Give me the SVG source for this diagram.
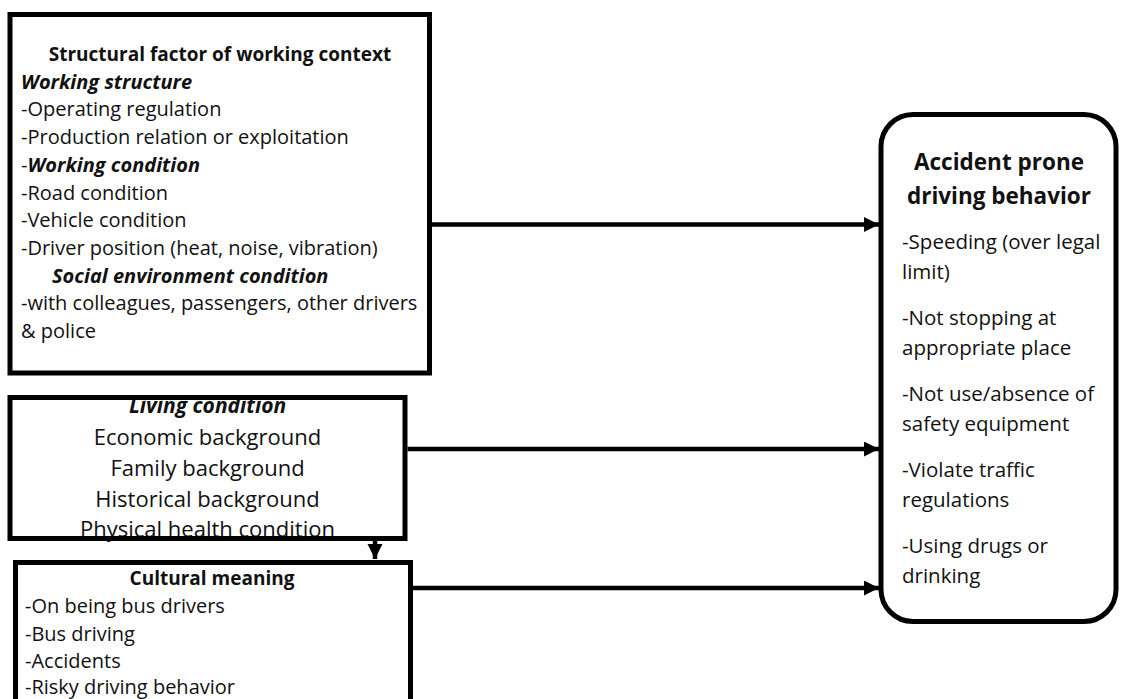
<svg xmlns="http://www.w3.org/2000/svg" width="1123" height="699" viewBox="0 0 1123 699">
<style>
.box{fill:none;stroke:#000;stroke-width:5}
.t{font-family:"Open Sans","Noto Sans",sans-serif;font-size:20px;fill:#111}
.b{font-weight:bold;font-size:19px}
.bi{font-weight:bold;font-style:italic}
.c{text-anchor:middle}
.lv{font-size:22px}
.rt{font-size:20.5px}
.rh{font-weight:bold;font-size:22.5px}
.conn{fill:none;stroke:#000;stroke-width:4.5}
</style>
<defs>
<marker id="ah" markerUnits="userSpaceOnUse" markerWidth="16" markerHeight="16" refX="15" refY="7.5" orient="auto">
<path d="M0,0 L15,7.5 L0,15 z" fill="#000"/>
</marker>
</defs>
<rect width="1123" height="699" fill="#fff"/>
<g id="node-structural">
<text class="t b c" x="220" y="61">Structural factor of working context</text>
<text class="t bi" x="21" y="88.7">Working structure</text>
<text class="t" x="21" y="116.4">-Operating regulation</text>
<text class="t" x="21" y="144">-Production relation or exploitation</text>
<text class="t" x="21" y="171.8">-<tspan class="bi">Working condition</tspan></text>
<text class="t" x="21" y="199.5">-Road condition</text>
<text class="t" x="21" y="227.2">-Vehicle condition</text>
<text class="t" x="21" y="255">-Driver position (heat, noise, vibration)</text>
<text class="t bi" x="52" y="282.6">Social environment condition</text>
<text class="t" x="21" y="310.3">-with colleagues, passengers, other drivers</text>
<text class="t" x="21" y="338">&amp; police</text>
<rect class="box" x="10" y="14.5" width="419.5" height="358.5"/>
</g>
<g id="node-living">
<text class="t bi c" x="207.5" y="413" style="font-size:21px">Living condition</text>
<text class="t lv c" x="207.5" y="444.5">Economic background</text>
<text class="t lv c" x="207.5" y="475.5">Family background</text>
<text class="t lv c" x="207.5" y="506.5">Historical background</text>
<text class="t lv c" x="207.5" y="537">Physical health condition</text>
<rect class="box" x="10" y="397.5" width="395" height="141"/>
</g>
<g id="node-cultural">
<text class="t b c" x="212" y="585">Cultural meaning</text>
<text class="t" x="25" y="613">-On being bus drivers</text>
<text class="t" x="25" y="641">-Bus driving</text>
<text class="t" x="25" y="668">-Accidents</text>
<text class="t" x="25" y="694">-Risky driving behavior</text>
<rect class="box" x="15.5" y="562.5" width="395" height="200"/>
</g>
<g id="node-behavior">
<rect class="box" x="881" y="114.5" width="235" height="507" rx="32" ry="32"/>
<text class="t rh c" x="999" y="170">Accident prone</text>
<text class="t rh c" x="999" y="204">driving behavior</text>
<text class="t rt" x="902" y="249">-Speeding (over legal</text>
<text class="t rt" x="902" y="279">limit)</text>
<text class="t rt" x="902" y="325">-Not stopping at</text>
<text class="t rt" x="902" y="355">appropriate place</text>
<text class="t rt" x="902" y="401">-Not use/absence of</text>
<text class="t rt" x="902" y="431">safety equipment</text>
<text class="t rt" x="902" y="477">-Violate traffic</text>
<text class="t rt" x="902" y="507">regulations</text>
<text class="t rt" x="902" y="553">-Using drugs or</text>
<text class="t rt" x="902" y="583">drinking</text>
</g>
<g id="connectors">
<path class="conn" d="M432 224.5 H879" marker-end="url(#ah)"/>
<path class="conn" d="M407.5 449 H879" marker-end="url(#ah)"/>
<path class="conn" d="M413 588 H879" marker-end="url(#ah)"/>
<path class="conn" d="M375 541 V559" marker-end="url(#ah)"/>
</g>
</svg>
